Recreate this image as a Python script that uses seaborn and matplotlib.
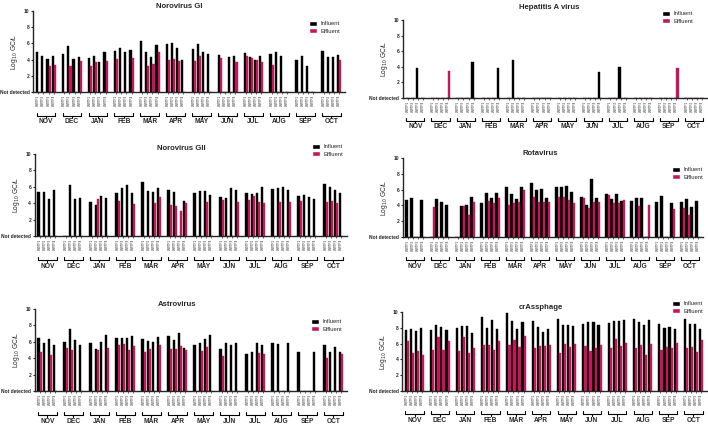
# -*- coding: utf-8 -*-
"""
Monthly influent / effluent virus concentrations at four WWTPs
six panels, bars drawn with seaborn
"""

import pandas as pd
import numpy as np

import seaborn as sns

import matplotlib
matplotlib.use('Agg')
import matplotlib.pyplot as plt
from matplotlib.patches import Patch

import warnings
warnings.filterwarnings("ignore")

months = ['NOV', 'DEC', 'JAN', 'FEB', 'MAR', 'APR', 'MAY', 'JUN', 'JUL', 'AUG', 'SEP', 'OCT']
plants = ['WWTP1', 'WWTP2', 'WWTP3', 'WWTP4']

#rows are months (NOV..OCT), columns are WWTP1..4, 0 = not detected
norogi_inf = [[5.0, 4.4, 4.1, 4.5], [4.75, 5.7, 4.05, 4.3], [4.2, 4.5, 3.7, 5.0], [5.1, 5.4, 5.0, 5.2],
              [6.3, 5.0, 4.3, 5.8], [5.9, 6.0, 5.4, 3.9], [5.3, 5.9, 4.9, 4.75], [4.6, 0, 4.3, 4.45],
              [4.8, 4.3, 4.0, 4.5], [4.75, 5.0, 4.5, 0], [3.9, 4.4, 3.2, 0], [5.1, 4.3, 4.3, 4.6]]
norogi_eff = [[0, 0, 3.2, 3.3], [0, 3.2, 0, 3.85], [3.2, 3.7, 0, 3.85], [4.05, 0, 0, 4.25],
              [0, 3.2, 3.4, 4.9], [3.9, 4.1, 3.85, 0], [3.85, 4.5, 0, 0], [4.15, 0, 0, 3.65],
              [4.4, 4.2, 3.9, 3.7], [3.3, 0, 0, 0], [0, 0, 0, 0], [0, 0, 0, 3.9]]

hav_inf = [[0, 0, 3.8, 0], [0, 0, 0, 0], [0, 0, 0, 4.6], [0, 0, 0, 3.9],
           [0, 4.9, 0, 0], [0, 0, 0, 0], [0, 0, 0, 0], [0, 0, 0, 3.3],
           [0, 0, 4.0, 0], [0, 0, 0, 0], [0, 0, 0, 0], [0, 0, 0, 0]]
hav_eff = [[0, 0, 0, 0], [0, 0, 0, 3.4], [0, 0, 0, 0], [0, 0, 0, 0],
           [0, 0, 0, 0], [0, 0, 0, 0], [0, 0, 0, 0], [0, 0, 0, 0],
           [0, 0, 0, 0], [0, 0, 0, 0], [0, 0, 0, 3.8], [0, 0, 0, 0]]

norogii_inf = [[5.4, 5.4, 4.5, 5.6], [0, 6.2, 4.5, 4.7], [4.2, 3.8, 4.9, 4.6], [5.2, 5.8, 6.2, 5.2],
               [6.6, 5.5, 5.4, 5.9], [5.6, 5.4, 0, 4.3], [5.2, 5.5, 5.5, 5.0], [4.8, 4.6, 5.8, 5.6],
               [5.3, 5.1, 5.2, 6.0], [5.7, 5.8, 6.0, 5.6], [4.9, 5.0, 4.8, 4.5], [6.3, 6.0, 5.6, 5.3]]
norogii_eff = [[0, 0, 0, 0], [0, 0, 0, 0], [0, 4.5, 0, 0], [4.3, 0, 0, 3.9],
               [0, 0, 4.0, 4.8], [3.8, 3.7, 3.1, 4.0], [0, 0, 4.1, 0], [4.4, 0, 0, 4.2],
               [4.4, 4.9, 4.1, 4.0], [0, 4.2, 0, 4.1], [4.3, 0, 0, 0], [4.1, 4.3, 4.0, 0]]

rota_inf = [[4.7, 5.0, 0, 4.7], [0, 4.8, 4.5, 4.0], [0, 3.9, 4.0, 5.1], [4.3, 5.6, 5.0, 5.6],
            [6.3, 5.4, 4.8, 6.3], [6.8, 5.9, 6.1, 4.9], [6.4, 6.4, 6.5, 5.7], [5.1, 4.0, 7.4, 4.9],
            [5.4, 4.8, 5.5, 4.6], [4.6, 4.9, 4.9, 0], [4.5, 5.2, 0, 4.3], [4.5, 4.8, 3.8, 4.6]]
rota_eff = [[0, 0, 0, 0], [3.8, 0, 0, 0], [0, 3.9, 2.8, 4.4], [0, 4.6, 4.3, 5.0],
            [4.0, 4.3, 4.4, 5.9], [5.1, 4.4, 4.5, 4.4], [5.1, 5.1, 4.7, 4.3], [4.9, 3.7, 4.4, 4.5],
            [5.3, 4.3, 4.3, 4.7], [0, 3.9, 0, 4.0], [0, 0, 0, 3.6], [3.7, 2.8, 0, 0]]

astro_inf = [[6.5, 5.9, 6.3, 5.6], [6.0, 7.6, 6.2, 5.6], [5.8, 5.1, 6.0, 6.8], [6.5, 6.45, 6.5, 6.7],
             [6.3, 6.1, 6.0, 6.6], [6.7, 6.2, 7.1, 5.3], [5.6, 5.8, 6.4, 6.8], [5.1, 5.8, 5.6, 5.8],
             [4.5, 4.8, 5.9, 5.6], [5.8, 5.7, 0, 5.8], [4.8, 0, 0, 4.8], [5.6, 4.7, 5.4, 4.8]]
astro_eff = [[4.8, 0, 4.4, 0], [5.2, 5.0, 0, 0], [0, 5.0, 0, 5.2], [5.6, 5.7, 5.0, 5.5],
             [4.7, 5.1, 0, 5.6], [5.1, 5.1, 5.5, 5.0], [0, 4.9, 5.4, 0], [4.3, 0, 0, 0],
             [0, 0, 4.6, 4.5], [0, 0, 0, 0], [0, 0, 0, 0], [4.0, 0, 0, 4.5]]

crass_inf = [[7.7, 7.9, 7.6, 8.0], [7.7, 8.3, 8.1, 7.7], [8.0, 8.2, 8.2, 7.35], [9.4, 8.0, 8.95, 7.9],
             [9.9, 8.9, 7.9, 8.7], [8.9, 8.1, 7.5, 7.8], [9.1, 8.4, 8.4, 8.2], [8.5, 8.7, 8.7, 8.4],
             [8.65, 8.9, 8.9, 8.95], [9.15, 8.7, 8.3, 8.95], [8.5, 8.0, 8.1, 7.8], [9.1, 8.5, 8.5, 7.9]]
crass_eff = [[6.3, 4.8, 5.0, 4.5], [5.25, 6.9, 5.25, 6.3], [5.1, 6.8, 4.75, 5.5], [5.8, 5.8, 5.2, 6.35],
             [5.8, 6.4, 5.6, 7.0], [5.5, 5.7, 5.7, 5.8], [4.75, 5.9, 5.6, 5.9], [5.7, 5.1, 5.5, 5.8],
             [5.4, 6.6, 5.7, 6.1], [5.4, 5.8, 4.5, 5.9], [5.2, 5.6, 5.5, 6.1], [5.4, 5.6, 4.95, 6.4]]

inf_color = 'black'
eff_color = '#c2185b'

sns.set_style('ticks')
plt.rcParams['font.family'] = ['Liberation Sans', 'DejaVu Sans']
plt.rcParams['axes.linewidth'] = 1.0


#slot order with an empty slot between months
order = []
for mi, m in enumerate(months):
    for p in plants:
        order.append(m + '-' + p)
    if mi < len(months) - 1:
        order.append('gap' + str(mi))


def make_df(inf, eff):
    rows = []
    for mi, m in enumerate(months):
        for pi, p in enumerate(plants):
            rows.append([m + '-' + p, 'Influent', inf[mi][pi]])
            rows.append([m + '-' + p, 'Effluent', eff[mi][pi]])
    return pd.DataFrame(rows, columns=['slot', 'type', 'val'])


def draw_panel(rect, inf, eff, title, title_x, title_pad, leg_px):
    ax = fig.add_axes(rect)
    df = make_df(inf, eff)
    sns.barplot(data=df, x='slot', y='val', hue='type', order=order,
                hue_order=['Influent', 'Effluent'],
                palette={'Influent': inf_color, 'Effluent': eff_color},
                width=0.85, saturation=1, errorbar=None, ax=ax, legend=False)
    #give the thin bars a solid edge so they don't wash out
    for p in ax.patches:
        p.set_edgecolor(p.get_facecolor())
        p.set_linewidth(0.3)

    ax.set_ylim(0, 10)
    ax.set_xlim(-0.95, 59.1)
    ax.set_yticks([0, 2, 4, 6, 8, 10])
    ax.set_yticklabels(['Not detected', '2', '4', '6', '8', '10'], fontsize=3.5, fontweight='bold')
    ax.set_ylabel('Log$_{10}$ GC/L', fontsize=4.8)
    ax.yaxis.set_label_coords(-0.042, 0.5)
    ax.set_xlabel('')

    xpos = [order.index(s) for s in order if not s.startswith('gap')]
    ax.set_xticks(xpos)
    ax.set_xticklabels(plants * len(months), rotation=90, fontsize=2.2)
    ax.tick_params(axis='x', length=1.2, width=0.5, pad=1)
    ax.tick_params(axis='y', length=1.8, width=0.8, pad=0.8)
    sns.despine(ax=ax)

    ax.set_title(title, fontsize=5.6, fontweight='bold', pad=title_pad, x=title_x)

    #month brackets under the WWTP labels
    trans = ax.get_xaxis_transform()
    yb = -0.295
    for mi, m in enumerate(months):
        x0 = mi * 5 - 0.3
        x1 = mi * 5 + 3 + 0.3
        ax.plot([x0, x0, x1, x1], [yb + 0.04, yb, yb, yb + 0.04], color='black', lw=0.8,
                transform=trans, clip_on=False)
        ax.plot([(x0 + x1) / 2, (x0 + x1) / 2], [yb, yb - 0.025], color='black', lw=0.8,
                transform=trans, clip_on=False)
        ax.text((x0 + x1) / 2, yb - 0.03, m, transform=trans, ha='center', va='top',
                fontsize=4.8, fontweight='bold')

    handles = [Patch(facecolor=inf_color, label='Influent'), Patch(facecolor=eff_color, label='Effluent')]
    ax.legend(handles=handles, loc='upper left', frameon=False, fontsize=4.2,
              bbox_to_anchor=(leg_px[0] / 708., 1 - leg_px[1] / 424.), bbox_transform=fig.transFigure,
              borderpad=0, borderaxespad=0, handlelength=1.4, handleheight=0.9,
              handletextpad=0.6, labelspacing=0.35)
    return ax


fig = plt.figure(figsize=(7.08, 4.24), dpi=100)

draw_panel([0.047, 0.783, 0.44, 0.191], norogi_inf, norogi_eff, 'Norovirus GI', 0.47, 2.5, (309, 21))
draw_panel([0.569, 0.769, 0.43, 0.184], hav_inf, hav_eff, 'Hepatitis A virus', 0.48, 8, (662, 11))
draw_panel([0.049, 0.443, 0.441, 0.194], norogii_inf, norogii_eff, 'Norovirus GII', 0.47, 2.5, (312, 144))
draw_panel([0.569, 0.441, 0.424, 0.186], rota_inf, rota_eff, 'Rotavirus', 0.457, 2.5, (672, 167))
draw_panel([0.049, 0.078, 0.441, 0.193], astro_inf, astro_eff, 'Astrovirus', 0.455, 2.5, (311, 319))
draw_panel([0.568, 0.078, 0.43, 0.186], crass_inf, crass_eff, 'crAssphage', 0.456, 2.5, (672, 301))

plt.savefig('out.png', dpi=100)
plt.close()
